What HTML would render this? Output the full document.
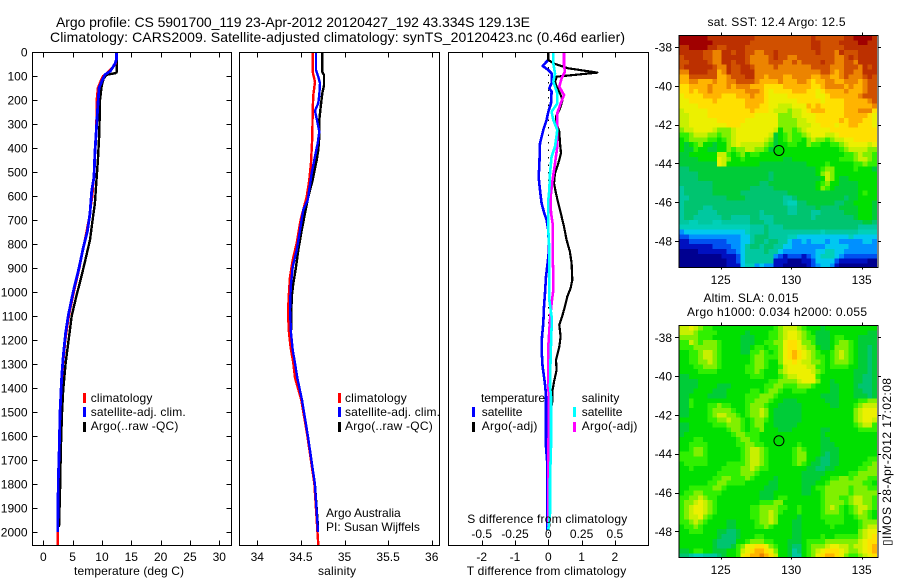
<!DOCTYPE html>
<html>
<head>
<meta charset="utf-8">
<title>Argo profile</title>
<style>
html,body{margin:0;padding:0;background:#fff;}
svg{display:block;}
text{font-family:"Liberation Sans","DejaVu Sans",sans-serif;font-size:12px;fill:#000;}
.t14{font-size:14px;}
</style>
</head>
<body>
<svg id="chart" xmlns="http://www.w3.org/2000/svg" width="900" height="580" viewBox="0 0 900 580">
<rect x="0" y="0" width="900" height="580" fill="#fff"/>
<text class="t14" x="56" y="27" textLength="474" lengthAdjust="spacing">Argo profile: CS 5901700_119 23-Apr-2012 20120427_192 43.334S 129.13E</text>
<text class="t14" x="50" y="42" textLength="575" lengthAdjust="spacing">Climatology: CARS2009. Satellite-adjusted climatology: synTS_20120423.nc (0.46d earlier)</text>

<g id="maps"></g>
<g id="plots"></g>

<text x="74" y="575" textLength="110" lengthAdjust="spacing">temperature (deg C)</text>
<text x="318" y="575" textLength="38" lengthAdjust="spacing">salinity</text>
<text x="466.7" y="575" textLength="159.5" lengthAdjust="spacing">T difference from climatology</text>
<text x="467.3" y="523" textLength="160" lengthAdjust="spacing">S difference from climatology</text>

<g>
<rect x="83" y="393" width="3" height="10" fill="#f00"/>
<rect x="83" y="407" width="3" height="10" fill="#00f"/>
<rect x="83" y="422" width="3" height="10" fill="#000"/>
<text x="90.7" y="402" textLength="61.7" lengthAdjust="spacing">climatology</text>
<text x="90.7" y="416" textLength="95" lengthAdjust="spacing">satellite-adj. clim.</text>
<text x="90.7" y="430" textLength="87.7" lengthAdjust="spacing">Argo(..raw -QC)</text>
</g>
<g>
<rect x="338" y="393" width="3" height="10" fill="#f00"/>
<rect x="338" y="407" width="3" height="10" fill="#00f"/>
<rect x="338" y="422" width="3" height="10" fill="#000"/>
<text x="345" y="402" textLength="61.7" lengthAdjust="spacing">climatology</text>
<text x="345" y="416" textLength="95" lengthAdjust="spacing">satellite-adj. clim.</text>
<text x="345" y="430" textLength="87.7" lengthAdjust="spacing">Argo(..raw -QC)</text>
<text x="326" y="517">Argo Australia</text>
<text x="326" y="531">PI: Susan Wijffels</text>
</g>
<g>
<text x="481" y="402" textLength="64" lengthAdjust="spacing">temperature</text>
<text x="581.7" y="402" textLength="37.7" lengthAdjust="spacing">salinity</text>
<rect x="472" y="407" width="3" height="10" fill="#00f"/>
<rect x="472" y="422" width="3" height="10" fill="#000"/>
<rect x="573" y="407" width="3" height="10" fill="#0ff"/>
<rect x="573" y="422" width="3" height="10" fill="#f0f"/>
<text x="481.7" y="416" textLength="40.7" lengthAdjust="spacing">satellite</text>
<text x="481.7" y="430" textLength="55.7" lengthAdjust="spacing">Argo(-adj)</text>
<text x="581.7" y="416" textLength="40.7" lengthAdjust="spacing">satellite</text>
<text x="581.7" y="430" textLength="55.7" lengthAdjust="spacing">Argo(-adj)</text>
</g>

<text x="707.5" y="26" textLength="138" lengthAdjust="spacing">sat. SST: 12.4  Argo: 12.5</text>
<text x="703.5" y="302" textLength="95" lengthAdjust="spacing">Altim. SLA: 0.015</text>
<text x="687" y="316" textLength="180" lengthAdjust="spacing">Argo h1000: 0.034 h2000: 0.055</text>
<text x="891" y="546" transform="rotate(-90 891 546)" textLength="168" lengthAdjust="spacing">▯IMOS 28-Apr-2012 17:02:08</text>
</svg>

<script>
/* ---------- tick values ---------- */
const depthTicks = [0,100,200,300,400,500,600,700,800,900,1000,1100,1200,1300,1400,1500,1600,1700,1800,1900,2000];
const tempTicks = [0,5,10,15,20,25,30];
const salinityTicks = [34,34.5,35,35.5,36];
const diffTicks = [-2,-1,0,1,2];
const sDiffTicks = [-0.5,-0.25,0,0.25,0.5];
const lonTicks = [125,130,135];
const latTicks = [-38,-40,-42,-44,-46,-48];

/* ---------- temperature profiles ---------- */
const tempArgoDepth = [0,85,88,95,110,140,200,340,450,520,630,700,783,853,936,1020,1100,1207,1297,1408,1505,1645,1833,1980];
const tempArgo = [12.5,12.5,12.3,10.8,10.3,9.95,9.66,9.55,9.3,9.1,8.8,8.4,7.96,7.3,6.5,5.6,4.84,4.27,3.8,3.4,3.19,3.0,2.85,2.68];
const tempClimDepth = [0,30,50,70,85,100,120,150,200,300,400,500,600,700,800,900,1000,1100,1200,1300,1400,1500,1600,1700,1800,1900,2000,2054];
const tempClim = [12.5,12.5,12.3,11.6,11,10.2,9.8,9.3,9.1,9.05,8.85,8.65,8.35,7.75,6.95,6.15,5.2,4.35,3.75,3.35,3.05,2.85,2.76,2.65,2.55,2.48,2.45,2.45];
const tempSatDepth = [0,30,50,80,95,120,150,220,300,420,520,580,672,749,817,900,999,1096,1171,1270,1354,1423,1505,1645,1783,2000];
const tempSat = [12.5,12.5,12.2,11.4,10.5,10,9.5,9.3,9.1,8.8,8.64,8.25,7.96,7.5,6.8,6.08,5.1,4.27,3.8,3.4,3.13,3.0,2.85,2.73,2.56,2.45];

/* ---------- salinity profiles ---------- */
const salArgoDepth = [0,83,96,140,172,228,283,353,408,450,483,533,575,603,672,742,825,896,965,1020,1171,1242,1296,1358,1450,1600,1800,1980];
const salArgo = [34.745,34.745,34.765,34.765,34.745,34.727,34.711,34.711,34.70,34.681,34.662,34.635,34.604,34.585,34.547,34.509,34.47,34.444,34.413,34.394,34.386,34.406,34.432,34.459,34.513,34.58,34.66,34.696];
const salClimDepth = [0,83,125,179,240,353,460,533,603,700,796,867,937,1020,1088,1171,1233,1296,1358,1450,1600,1800,2054];
const salClim = [34.635,34.635,34.662,34.642,34.635,34.631,34.616,34.596,34.566,34.497,34.452,34.406,34.375,34.36,34.352,34.363,34.383,34.413,34.432,34.505,34.575,34.655,34.70];
const salSatDepth = [0,75,103,130,179,213,245,290,332,380,435,505,617,658,742,825,896,979,1075,1171,1242,1296,1358,1450,1600,1800,2000];
const salSat = [34.673,34.673,34.70,34.719,34.711,34.70,34.662,34.688,34.711,34.693,34.662,34.624,34.578,34.528,34.49,34.452,34.406,34.383,34.375,34.386,34.406,34.432,34.459,34.513,34.58,34.66,34.696];

/* ---------- difference profiles ---------- */
const dTSatDepth = [0,33,58,75,89,130,151,165,214,249,283,325,380,478,519,575,631,672,700,742,825,880,936,1005,1061,1130,1186,1242,1311,1353,1394,1436,1644,1714,1922,1991];
const dTSat = [0,0,-0.17,0,0.10,0.10,0.03,0.10,0.08,0,-0.05,-0.15,-0.25,-0.27,-0.29,-0.25,-0.2,-0.12,-0.05,0,0.02,-0.02,-0.07,-0.10,-0.13,-0.15,-0.19,-0.20,-0.17,-0.13,-0.09,-0.07,-0.07,-0.03,-0.03,-0.03];
const dTArgoDepth = [0,33,47,68,86,103,124,144,172,200,235,269,297,332,380,422,464,505,547,589,631,686,728,783,832,880,950,984,1019,1061,1095,1137,1186,1228,1283,1325,1374,1408,1450,1500,1700,1978];
const dTArgo = [0,0,0.15,0.60,1.47,0.25,0.20,0.25,0.35,0.43,0.35,0.23,0.25,0.33,0.35,0.38,0.30,0.20,0.17,0.23,0.30,0.40,0.47,0.55,0.65,0.70,0.72,0.67,0.57,0.50,0.43,0.33,0.37,0.33,0.23,0.25,0.17,0.13,0.13,0.07,0.05,0.03];
const dSArgoDepth = [0,54,82,110,144,179,214,255,339,394,464,533,603,670,714,853,922,992,1047,1116,1228,1394,1450,1700,1978];
const dSArgo = [0.1175,0.1175,0.125,0.10,0.0825,0.1175,0.0925,0.0675,0.0675,0.0675,0.05,0.0325,0.0175,0.02,0.0325,0.0325,0.0375,0.0375,0.025,0.0125,0,0,0.005,0,0];
const dSSatDepth = [0,47,89,124,172,214,249,283,325,394,436,505,575,617,742,825,1033,1103,1144,1270,1394,1436,1644,1783,1922,1991];
const dSSat = [0.0375,0.0375,0.05,0.0375,0.0675,0.0675,0.025,0.0375,0.0675,0.05,0.025,0.0125,0.0075,0,0,0.0075,0.0075,0.025,0.025,0.0175,0.0125,0.02,0.02,0.0125,0.0125,0];

/* ---------- map values: one base-36 colour level per grid cell, rows north to south ---------- */
const sstRows = [
"jjjjjj iiiiii iiiihh hhhhhh hhhhih hhhhhi ijjjji",
"jjjjjj jiiiii iiihhh hhhhhh hhhhii hhhhii iijjii",
"iijjjj iihhii iihhhh hhhhhh hhhhii hhhhhi iiiiii",
"iiiiih hggiih iihhgg hhihhh hhhhhi hhhgih hhiiii",
"hiiiih hggiii iihggg ghihhg ghhhhh hhhggh ihiiii",
"hhiiii hggiih iihggg ghhhgg hghhhh ihhggh hgiiii",
"hiiiii ihggih hiihgg gghggg gggghh hhgggh hhgihi",
"ggiiii hhfgih hiiigg gggggg gggggg hhgfgh hggiii",
"ffhhhh hhffgh hhiigg fgggff ggggff ggffgh ggghih",
"ffggff fgffgg hhhhgf fffgff fggfef fggffg ggfghh",
"eeffff gfffgf gggfff eeeeff ffffee fggggf gffghh",
"eefeff gfffff ffgggf edeeee fffeed effffg fffghh",
"deeeef fffeee fffgff edddde eeeeed deffff ffghhh",
"ddeeee efeeee eeffff eddddd deeeee deeeef ffffgh",
"ddddee eeeeee eefffe eddccc dddfef eeeeef fffffg",
"cddddd eeeeee eeefee edcccb ccdeff feeeef ffggge",
"ccdddd eeeeee eeeedd dddbbb ccddde eeeeef ffffed",
"ccdddd ddeeee eedddd dddbbb bccdde eeeefe fffeed",
"ccdddd ddddee eddddd dddbbb bcccdd eeedee ffeeed",
"bccddd dcbbbc dddddd ddc9bb abcddd ddeeee eeeeee",
"aabccc bbabbc dddddd dc89ab aabcdd dccdee eeeeee",
"9abbbb aa9abc dddddd cb89ab aa9bcb babccd deeeee",
"989ab9 9899bc dccccc ba899a a99baa 99aabc ddddcd",
"988a99 8899ba bbccbb a89999 999999 9999ab ccccbb",
"889999 99cca9 ab9aa9 999999 999999 99999a abcbba",
"888899 99dcb9 9a9999 999988 999999 9999aa abccba",
"888888 88dc99 999998 888888 888999 9a9999 9aabaa",
"778888 888888 888888 888888 888889 abb999 9a9998",
"777788 888888 888888 878888 888889 bcb999 999999",
"777788 888888 888888 878888 888888 9cb988 999999",
"777777 788888 888887 788888 888889 ab9988 889999",
"677777 788888 888777 778888 888889 ba9888 889999",
"677777 788888 877777 777778 888888 888888 889a99",
"667777 777788 887777 777766 788888 888887 889999",
"677777 777777 777777 777765 577888 888778 899998",
"677776 677777 777777 777776 677778 777788 889998",
"677766 667777 777776 777776 677766 777778 889998",
"677666 666776 666776 667777 777767 777777 789998",
"665566 655666 666777 667777 777777 777777 777887",
"555555 555555 555666 766677 777777 777777 776666",
"344444 444444 445666 766666 666666 566666 665555",
"223333 333333 344677 766665 544444 444444 544444",
"112222 222233 344677 677664 334344 434433 333443",
"111111 122223 346776 776644 333333 344444 333333",
"000011 111122 346666 766433 333334 455443 333333",
"000000 000111 246666 663212 221234 555432 222222",
"000000 000011 246666 661110 001124 444211 111100",
"000000 000011 145534 331100 000123 443100 000000"
];
const slaRows = [
"ccdcba a99999 999999 99abcc cba999 899999 999999",
"cccbaa aa9999 998999 9aabcd dcba98 889999 999988",
"bbbbaa a99999 988899 9aabcd dcbaa8 889aa9 998888",
"aacbab bba999 988899 aabbde edbba8 889abb a98888",
"aaabbb bba999 9889aa 9aabde edcbb9 889bbb a98878",
"99aabc cba999 988aab a9abde fedcba 99abcb a98878",
"99aabc cba999 999abb aaabde fedcba a9abcb a98878",
"99aabb cba999 999abb a99bdd edccbb a9abbb a98878",
"999aab bba999 99aabb a99acd dddcca a9aaaa 998878",
"9999aa aa9999 99aaba 999bcd ddddcb a99999 988878",
"889999 999999 999aaa 999abc cdddda 999999 988778",
"888899 999999 999999 9aabbb bcdddb 998999 988778",
"888899 998889 999999 aabbaa abbba9 998899 987778",
"888999 988899 999aa9 abba99 aaa999 998899 988778",
"889999 888899 99aaab bba999 999999 888899 988878",
"88a999 999999 99aabb ba9988 899999 988899 99aabb",
"88a999 aabaa9 99abbb a99888 889999 998899 9abccc",
"889999 abbbba 99abbc b98888 889999 999999 9bcddd",
"889999 abccbb a9abbc b98888 889999 999999 9bcddd",
"999999 aabbcb ba9abb a98888 889999 999999 9bcddc",
"889999 9aaabb ba9abb 998888 899999 999999 9abcca",
"889999 9999ab ba9aab 999888 999999 889999 99aaaa",
"899999 99999a bbaaa9 999999 999999 899999 999999",
"999aa9 999999 abbaa9 999999 999999 889999 999999",
"99aaaa 999999 aabbaa 999999 9a9999 888999 999999",
"99abba 999999 9abccb a99999 aba999 888899 999999",
"aaabba 999999 9abccb a99999 abb999 878899 999999",
"aaaaaa 999999 9abccb a99999 abb998 778899 9999aa",
"9aaaaa 9999aa aabccb a99999 aba988 778899 999aab",
"99a999 999aaa abbcba a99999 999887 788999 99aabb",
"999999 99aaaa abbba9 999999 998888 899999 aabbbb",
"999999 9aabba aaba99 998999 998888 99aabb abbbaa",
"999999 aabbaa aa9999 988999 998889 9abbbb bbbaa9",
"99aaaa abba99 999999 888999 99889a abbbbb abbbaa",
"9aabba aaa999 999998 889999 998899 abbbbb abbbbb",
"aabbcb aa9999 999998 889aa9 999999 abbbaa bccbba",
"abbcdc ba9999 99999a aabb99 999999 abbbba bccbba",
"abcddc ba9999 999aab bbbaa9 9a9999 abcba9 abccba",
"abcddc ba9999 999aab bcba99 9a9999 abbba9 abcba9",
"abccdb a99999 999aab bcb999 989999 aaaaa9 9abba9",
"aabcba 999988 9999ab bcb999 889999 9aaaa9 99abbb",
"9aaba9 999988 9999aa ba9999 889999 99a999 99abcc",
"99aaa9 998877 899999 999999 889999 999999 99bcdd",
"999999 998777 8999aa 999999 889999 a99aaa aabcde",
"999999 987777 99abbb aa9998 889aaa abbbbb bbcdee",
"999999 987778 abddee dba998 779abb bcddcc bccdef",
"889aa9 988899 acdeff edb998 679abc deeedc bbcdef",
"776556 667899 adeffg fec998 669abd effedb aabcde"
];
const colourLevels = ["#000090","#0010c0","#0050f0","#0090ff","#00c8f0","#00d0b8","#00c8a0","#00c470","#00cc38","#00e000","#30f000","#80f000","#c8f000","#ecf000","#ffe000","#ffb400","#ec8400","#d05000","#bc3000","#a00000"];
const floatPosition = [129.13, -43.334];

/* ---------- axis functions ---------- */
const NS = 'http://www.w3.org/2000/svg';
const plots = document.getElementById('plots');
const maps = document.getElementById('maps');
const yDepth = d => 52 + 0.24 * d;
const xTemp = t => 43.3 + 5.867 * t;
const xSal = s => 257.3 + 87.2 * (s - 34);
const xDT = t => 548.3 + 33.3 * t;
const xDS = s => 548.3 + 133.2 * s;
const xLon = lon => 720.7 + 14.1 * (lon - 125);
const ySst = lat => 47 + 19.4 * (-38 - lat);
const ySla = lat => 337.3 + 19.4 * (-38 - lat);

function make(parent, tag, attrs, content) {
  const el = document.createElementNS(NS, tag);
  for (const k in attrs) el.setAttribute(k, attrs[k]);
  if (content !== undefined) el.textContent = content;
  parent.appendChild(el);
  return el;
}

function drawLine(xs, ds, xFn, colour, width, name) {
  const pts = xs.map((v, i) => xFn(v).toFixed(1) + ',' + yDepth(ds[i]).toFixed(1)).join(' ');
  const el = make(plots, 'polyline', {points: pts, fill: 'none', stroke: colour, 'stroke-width': width, 'stroke-linejoin': 'round', 'shape-rendering': 'crispEdges'});
  
  
}

function drawFrame(x0, x1, y0, y1, name) {
  const el = make(plots, 'rect', {x: x0, y: y0, width: x1 - x0, height: y1 - y0, fill: 'none', stroke: '#000', 'stroke-width': 1, 'shape-rendering': 'crispEdges'});
  
  
}

function xTicksFor(ticks, xFn, name, y0, y1) {
  ticks.forEach(v => {
    const x = Math.round(xFn(v)) + 0.5;
    const top = make(plots, 'line', {x1: x, x2: x, y1: y0, y2: y0 + 5, stroke: '#000', 'shape-rendering': 'crispEdges'});
    
    
    const bottom = make(plots, 'line', {x1: x, x2: x, y1: y1, y2: y1 - 5, stroke: '#000', 'shape-rendering': 'crispEdges'});
    
    
  });
}

function xLabelsFor(ticks, xFn, name, y) {
  ticks.forEach(v => {
    const label = make(plots, 'text', {x: xFn(v), y: y, 'text-anchor': 'middle'}, String(v));
    
    
  });
}

/* ---------- profile panels ---------- */
const zero = make(plots, 'line', {x1: 548.5, x2: 548.5, y1: 52, y2: 545, stroke: '#000', 'stroke-width': 1, 'stroke-dasharray': '1.5 6', 'shape-rendering': 'crispEdges'});



drawLine(tempArgo, tempArgoDepth, xTemp, '#000', 2.4, 'temperature-argo-line');
drawLine(tempClim, tempClimDepth, xTemp, '#f00', 2.4, 'temperature-climatology-line');
drawLine(tempSat, tempSatDepth, xTemp, '#00f', 2.8, 'temperature-satellite-line');
drawLine(salArgo, salArgoDepth, xSal, '#000', 2.4, 'salinity-argo-line');
drawLine(salClim, salClimDepth, xSal, '#f00', 2.4, 'salinity-climatology-line');
drawLine(salSat, salSatDepth, xSal, '#00f', 2.4, 'salinity-satellite-line');
drawLine(dTSat, dTSatDepth, xDT, '#00f', 2.6, 't-difference-satellite-line');
drawLine(dTArgo, dTArgoDepth, xDT, '#000', 2.2, 't-difference-argo-line');
drawLine(dSArgo, dSArgoDepth, xDS, '#f0f', 2.6, 's-difference-argo-line');
drawLine(dSSat, dSSatDepth, xDS, '#0ff', 2.6, 's-difference-satellite-line');

drawFrame(32.5, 231.5, 52.5, 545.5, 'temperature-panel-frame');
drawFrame(239.5, 439.5, 52.5, 545.5, 'salinity-panel-frame');
drawFrame(448.5, 648.5, 52.5, 545.5, 'difference-panel-frame');

xTicksFor(tempTicks, xTemp, 'temperature', 52.5, 545.5);
xTicksFor(salinityTicks, xSal, 'salinity', 52.5, 545.5);
xTicksFor(diffTicks, xDT, 't-difference', 52.5, 545.5);
xLabelsFor(tempTicks, xTemp, 'temperature', 561);
xLabelsFor(salinityTicks, xSal, 'salinity', 561);
xLabelsFor(diffTicks, xDT, 't-difference', 561);
xLabelsFor(sDiffTicks, xDS, 's-difference', 538);

depthTicks.forEach(d => {
  const y = Math.round(yDepth(d)) + 0.5;
  const left = make(plots, 'line', {x1: 32.5, x2: 37.5, y1: y, y2: y, stroke: '#000', 'shape-rendering': 'crispEdges'});
  
  
  const right = make(plots, 'line', {x1: 226.5, x2: 231.5, y1: y, y2: y, stroke: '#000', 'shape-rendering': 'crispEdges'});
  
  
  const label = make(plots, 'text', {x: 27.5, y: yDepth(d) + 4.5, 'text-anchor': 'end'}, String(d));
  
  
});

/* ---------- maps ---------- */
function drawMap(rows, yFn, top, bottom, name) {
  const left = 679.5, right = 877.5;
  const group = make(maps, 'g', {});
  
  
  const lonStart = 122.07, latStart = (yFn(-38) - top) / 19.4 - 38;
  rows.forEach((row, j) => {
    const levels = [...row.replace(/ /g, '')].map(c => parseInt(c, 36));
    levels.forEach((level, i) => {
      const x0 = xLon(lonStart + i / 3), x1 = xLon(lonStart + (i + 1) / 3);
      const y0 = yFn(latStart - j / 4), y1 = yFn(latStart - (j + 1) / 4);
      const cell = make(group, 'rect', {x: x0.toFixed(2), y: y0.toFixed(2), width: (x1 - x0 + 0.4).toFixed(2), height: (Math.min(y1, bottom) - y0 + 0.4).toFixed(2), fill: colourLevels[level], 'shape-rendering': 'crispEdges'});
      
      
    });
  });
  const frame = make(group, 'rect', {x: left - 0.5, y: top, width: right - left + 1, height: bottom - top, fill: 'none', stroke: '#000', 'shape-rendering': 'crispEdges'});
  
  
  lonTicks.forEach(lon => {
    const x = Math.round(xLon(lon)) + 0.5;
    const t = make(group, 'line', {x1: x, x2: x, y1: top - 3, y2: top, stroke: '#000', 'shape-rendering': 'crispEdges'});
    
    
    const b = make(group, 'line', {x1: x, x2: x, y1: bottom, y2: bottom + 2, stroke: '#000', 'shape-rendering': 'crispEdges'});
    
    
    const label = make(group, 'text', {x: xLon(lon), y: bottom + 16.5, 'text-anchor': 'middle'}, String(lon));
    
    
  });
  latTicks.forEach(lat => {
    const y = Math.round(yFn(lat)) + 0.5;
    const l = make(group, 'line', {x1: 675, x2: 679, y1: y, y2: y, stroke: '#000', 'shape-rendering': 'crispEdges'});
    
    
    const r = make(group, 'line', {x1: 878, x2: 881, y1: y, y2: y, stroke: '#000', 'shape-rendering': 'crispEdges'});
    
    
    const label = make(group, 'text', {x: 672, y: yFn(lat) + 4.5, 'text-anchor': 'end'}, String(lat));
    
    
  });
  const marker = make(group, 'circle', {cx: xLon(floatPosition[0]), cy: yFn(floatPosition[1]), r: 5, fill: 'none', stroke: '#000', 'stroke-width': 1});
  
  
}
drawMap(sstRows, ySst, 35.5, 267.5, 'sst');
drawMap(slaRows, ySla, 325.5, 557.5, 'sla');
</script>
</body>
</html>
